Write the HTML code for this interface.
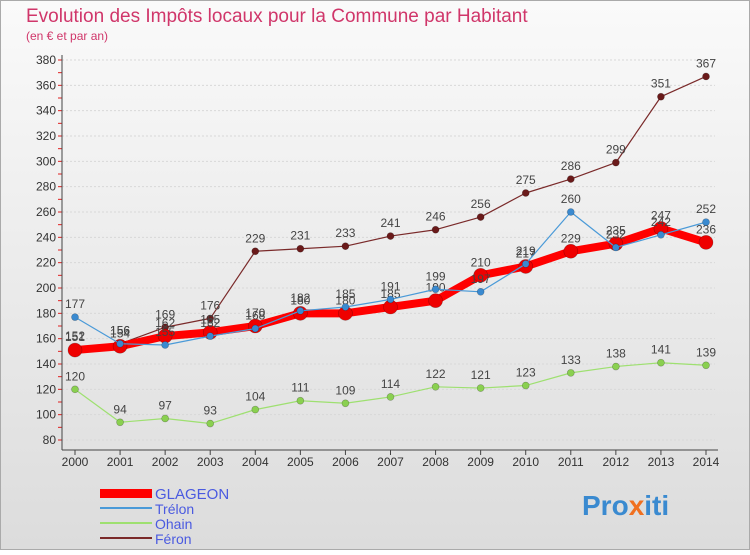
<!DOCTYPE html>
<html><head><meta charset="utf-8"><style>
body{margin:0;width:750px;height:550px;overflow:hidden;font-family:"Liberation Sans",sans-serif}
</style></head><body>
<svg width="750" height="550" xmlns="http://www.w3.org/2000/svg">
<defs><linearGradient id="bg" x1="0" y1="0" x2="0" y2="1"><stop offset="0" stop-color="#fafafa"/><stop offset="1" stop-color="#dcdcdc"/></linearGradient></defs>
<rect x="0.5" y="0.5" width="749" height="549" fill="url(#bg)" stroke="#aaa"/>
<text x="26" y="22" font-size="19" fill="#d0366a">Evolution des Impôts locaux pour la Commune par Habitant</text>
<text x="26" y="40" font-size="12" fill="#d0366a">(en € et par an)</text>
<g id="axes"></g><g id="series"></g>
<g>
<rect x="100" y="489" width="52" height="9" fill="#ff0000"/>
<text x="155" y="499" font-size="15" fill="#4a5ae0">GLAGEON</text>
<line x1="100" y1="508" x2="152" y2="508" stroke="#4a9ad8" stroke-width="2"/>
<text x="155" y="514" font-size="14" fill="#4a5ae0">Trélon</text>
<line x1="100" y1="523" x2="152" y2="523" stroke="#9ee070" stroke-width="2"/>
<text x="155" y="529" font-size="14" fill="#4a5ae0">Ohain</text>
<line x1="100" y1="538" x2="152" y2="538" stroke="#7a2a2a" stroke-width="2"/>
<text x="155" y="544" font-size="14" fill="#4a5ae0">Féron</text>
</g>
<text x="582" y="515" font-size="28" font-weight="bold" fill="#3a8ad0">Pro<tspan fill="#f07020">x</tspan>iti</text>
</svg>
<script>
const years=[2000,2001,2002,2003,2004,2005,2006,2007,2008,2009,2010,2011,2012,2013,2014];
const yTicks=[80,100,120,140,160,180,200,220,240,260,280,300,320,340,360,380];
const feron=[152,156,169,176,229,231,233,241,246,256,275,286,299,351,367];
const trelon=[177,156,155,162,168,182,185,191,199,197,219,260,232,242,252];
const ohain=[120,94,97,93,104,111,109,114,122,121,123,133,138,141,139];
const glageon=[151,154,162,165,170,180,180,185,190,210,217,229,235,247,236];
const NS="http://www.w3.org/2000/svg";
const x=i=>75+i*(706-75)/14;
const y=v=>440-(v-80)*380/300;
function mk(t,a,p){const e=document.createElementNS(NS,t);for(const k in a)e.setAttribute(k,a[k]);p.appendChild(e);return e;}
const ax=document.getElementById('axes');
yTicks.forEach(v=>{
 const l=mk('line',{x1:62,x2:715,y1:y(v),y2:y(v),stroke:'#d8d8d8','stroke-dasharray':'2,2'},ax);
 
 
 const t=mk('text',{x:56,y:y(v)+4,'font-size':12,'text-anchor':'end',fill:'#333'},ax);t.textContent=v;
 
 
});
for(let v=80;v<=380;v+=10){const m=mk('line',{x1:58,x2:62,y1:y(v),y2:y(v),stroke:'#e02020'},ax);}
mk('line',{x1:62,x2:62,y1:55,y2:450,stroke:'#444'},ax);
mk('line',{x1:62,x2:718,y1:450,y2:450,stroke:'#444'},ax);
years.forEach((yr,i)=>{
 mk('line',{x1:x(i),x2:x(i),y1:450,y2:455,stroke:'#444'},ax);
 const t=mk('text',{x:x(i),y:466,'font-size':12,'text-anchor':'middle',fill:'#333'},ax);t.textContent=yr;
 
 
});
const sg=document.getElementById('series');
function series(name,data,color,w,r,dot){
 const g=mk('g',{},sg);
 
 
 const p=mk('polyline',{points:data.map((v,i)=>x(i)+','+y(v)).join(' '),fill:'none',stroke:color,'stroke-width':w,'stroke-linejoin':'round'},g);
 
 
 data.forEach((v,i)=>{
  const c=mk('circle',{cx:x(i),cy:y(v),r:r,fill:dot,stroke:'rgba(0,0,0,0.3)','stroke-width':0.6},g);
  
  
  const t=mk('text',{x:x(i),y:y(v)-9,'font-size':12,'text-anchor':'middle',fill:'#444'},g);t.textContent=v;
  
  
 });
}
series('ohain',ohain,'#9ee070',1.2,3.5,'#8ad050');
series('feron',feron,'#7a2a2a',1.2,3.5,'#6a1a1a');
series('glageon',glageon,'#ff0000',8,7,'#ee0000');
series('trelon',trelon,'#4a9ad8',1.2,3.5,'#3a8ad0');
</script>
</body></html>
